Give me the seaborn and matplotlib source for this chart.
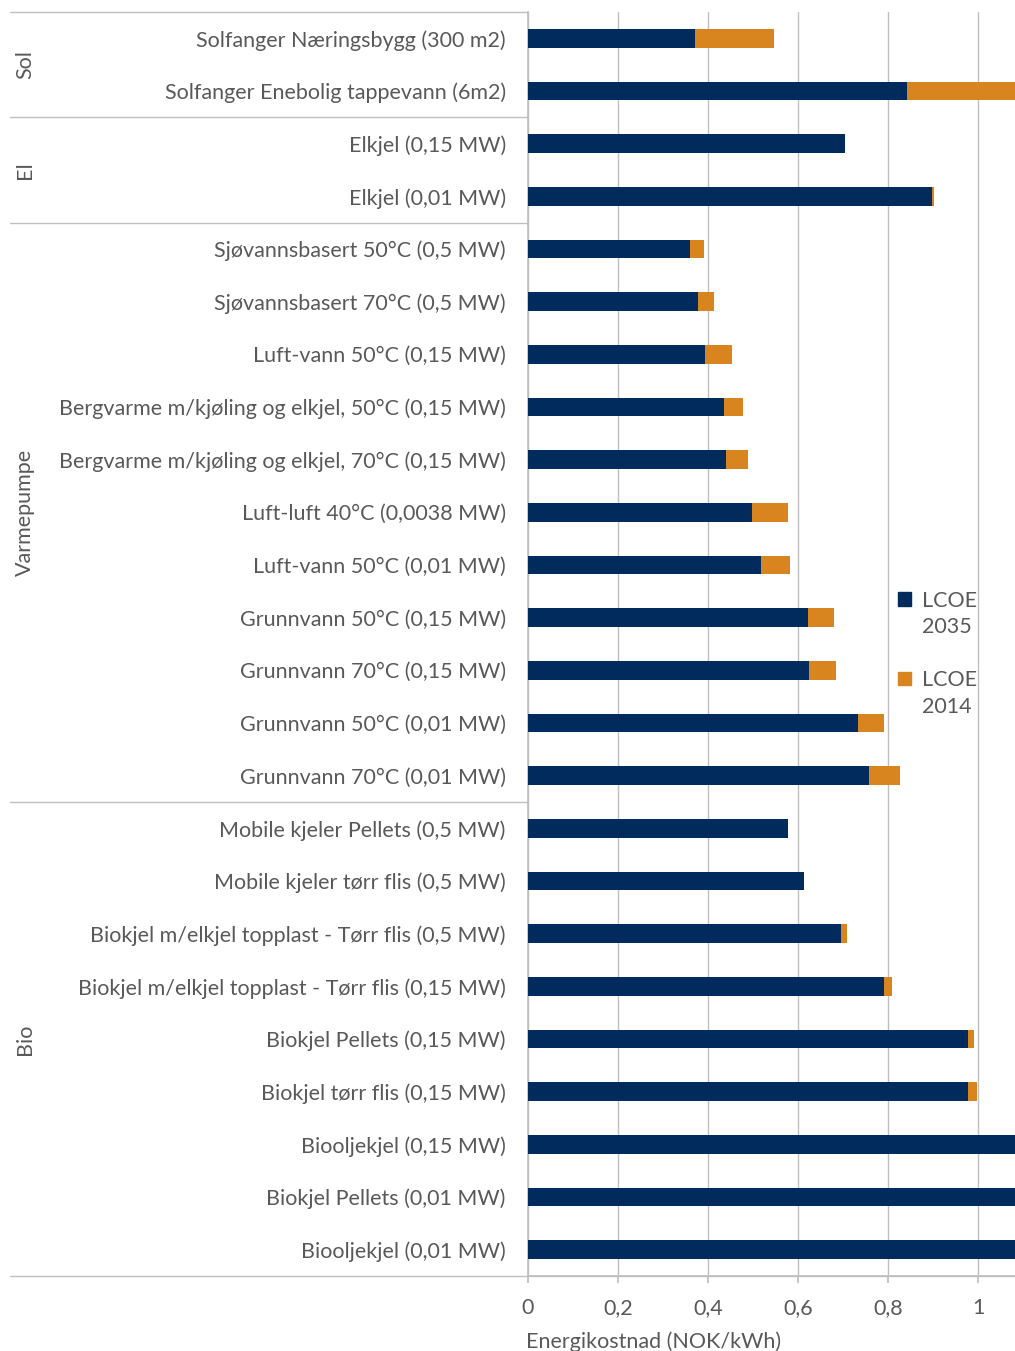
import numpy as np
import pandas as pd
import matplotlib
matplotlib.use("Agg")
import matplotlib.pyplot as plt
import matplotlib.transforms as mtransforms
from matplotlib.patches import Patch
import seaborn as sns

# ======================
# data
# ======================
technologies = [
    "Solfanger Næringsbygg (300 m2)",
    "Solfanger Enebolig tappevann (6m2)",
    "Elkjel (0,15 MW)",
    "Elkjel (0,01 MW)",
    "Sjøvannsbasert 50°C (0,5 MW)",
    "Sjøvannsbasert 70°C (0,5 MW)",
    "Luft-vann 50°C (0,15 MW)",
    "Bergvarme m/kjøling og elkjel, 50°C (0,15 MW)",
    "Bergvarme m/kjøling og elkjel, 70°C (0,15 MW)",
    "Luft-luft 40°C (0,0038 MW)",
    "Luft-vann 50°C (0,01 MW)",
    "Grunnvann 50°C (0,15 MW)",
    "Grunnvann 70°C (0,15 MW)",
    "Grunnvann 50°C (0,01 MW)",
    "Grunnvann 70°C (0,01 MW)",
    "Mobile kjeler Pellets (0,5 MW)",
    "Mobile kjeler tørr flis (0,5 MW)",
    "Biokjel m/elkjel topplast - Tørr flis (0,5 MW)",
    "Biokjel m/elkjel topplast - Tørr flis (0,15 MW)",
    "Biokjel Pellets (0,15 MW)",
    "Biokjel tørr flis (0,15 MW)",
    "Biooljekjel (0,15 MW)",
    "Biokjel Pellets (0,01 MW)",
    "Biooljekjel (0,01 MW)",
]
groups = ["Sol"] * 2 + ["El"] * 2 + ["Varmepumpe"] * 11 + ["Bio"] * 9
lcoe_2035 = [0.371, 0.842, 0.704, 0.898, 0.360, 0.378, 0.393, 0.436, 0.440,
             0.498, 0.518, 0.622, 0.624, 0.733, 0.758, 0.578, 0.613, 0.696,
             0.791, 0.978, 0.978, 1.20, 1.25, 1.30]
lcoe_2014 = [0.547, 1.15, 0.704, 0.901, 0.391, 0.413, 0.453, 0.478, 0.489,
             0.578, 0.582, 0.680, 0.684, 0.791, 0.827, 0.578, 0.613, 0.709,
             0.809, 0.991, 0.998, 1.20, 1.25, 1.30]
xticks = [0, 0.2, 0.4, 0.6, 0.8, 1.0]
xtick_labels = ["0", "0,2", "0,4", "0,6", "0,8", "1"]

df = pd.DataFrame({"tech": technologies, "group": groups,
                   "lcoe_2035": lcoe_2035, "lcoe_2014": lcoe_2014})

navy = "#002b5c"
orange = "#d8841f"
grey_line = "#bfbfbf"
grey_text = "#595959"
fs = 15.5

sns.set_theme(style="white")
plt.rcParams["font.family"] = ["Lato", "DejaVu Sans"]

W, H = 1015, 1351
fig = plt.figure(figsize=(W / 100, H / 100), dpi=100)
ax = fig.add_axes([528 / W, (H - 1276) / H, 487 / W, (1276 - 12) / H])

# 2014 drawn full length, 2035 on top of it
sns.barplot(data=df, x="lcoe_2014", y="tech", color=orange, width=0.35,
            linewidth=0, saturation=1, ax=ax, zorder=3)
sns.barplot(data=df, x="lcoe_2035", y="tech", color=navy, width=0.35,
            linewidth=0, saturation=1, ax=ax, zorder=4)

ax.set_xlim(0, 1.082)
ax.set_ylim(len(technologies) - 0.5, -0.5)
ax.set_xticks(xticks)
ax.set_xticklabels(xtick_labels)
ax.xaxis.grid(True, color=grey_line, linewidth=1)
ax.set_axisbelow(True)
ax.set_ylabel("")
ax.set_xlabel("Energikostnad (NOK/kWh)", fontsize=fs, color=grey_text)
ax.xaxis.set_label_coords(0.257, -0.044)

for s in ["top", "right"]:
    ax.spines[s].set_visible(False)
ax.spines["left"].set_color(grey_line)
ax.spines["bottom"].set_color(grey_line)

ax.tick_params(axis="y", length=0, pad=16, labelsize=fs, labelcolor=grey_text)
ax.tick_params(axis="x", length=5, color=grey_line, pad=11, labelsize=fs,
               labelcolor=grey_text, direction="out", bottom=True)

# group separators and labels on the left
trans = mtransforms.blended_transform_factory(ax.transAxes, ax.transData)
x_left = (10 - 528) / 487
bounds = [-0.5]
for i in range(1, len(groups)):
    if groups[i] != groups[i - 1]:
        bounds.append(i - 0.5)
bounds.append(len(groups) - 0.5)
for b in bounds:
    ax.plot([x_left, 0], [b, b], color=grey_line, lw=1, transform=trans,
            clip_on=False)
ax.plot([0, 1], [bounds[-1], bounds[-1]], color=grey_line, lw=1,
        transform=trans, clip_on=False)

for k in range(len(bounds) - 1):
    name = groups[int(bounds[k] + 0.5)]
    ax.text((25 - 528) / 487, (bounds[k] + bounds[k + 1]) / 2, name,
            rotation=90, ha="center", va="center", fontsize=fs,
            color=grey_text, transform=trans)

# legend: handle next to first line of the two-line label
blank = Patch(facecolor="none", edgecolor="none")
leg_handles = [Patch(color=navy), blank, blank, Patch(color=orange), blank]
leg_labels = ["LCOE", "2035", "", "LCOE", "2014"]
ax.legend(leg_handles, leg_labels, loc="upper left",
          bbox_to_anchor=(0.72, 0.5575), frameon=False, fontsize=fs,
          handlelength=0.6, handleheight=0.6, handletextpad=0.5,
          labelspacing=0.3, labelcolor=grey_text)

fig.savefig("out.png", dpi=100)
